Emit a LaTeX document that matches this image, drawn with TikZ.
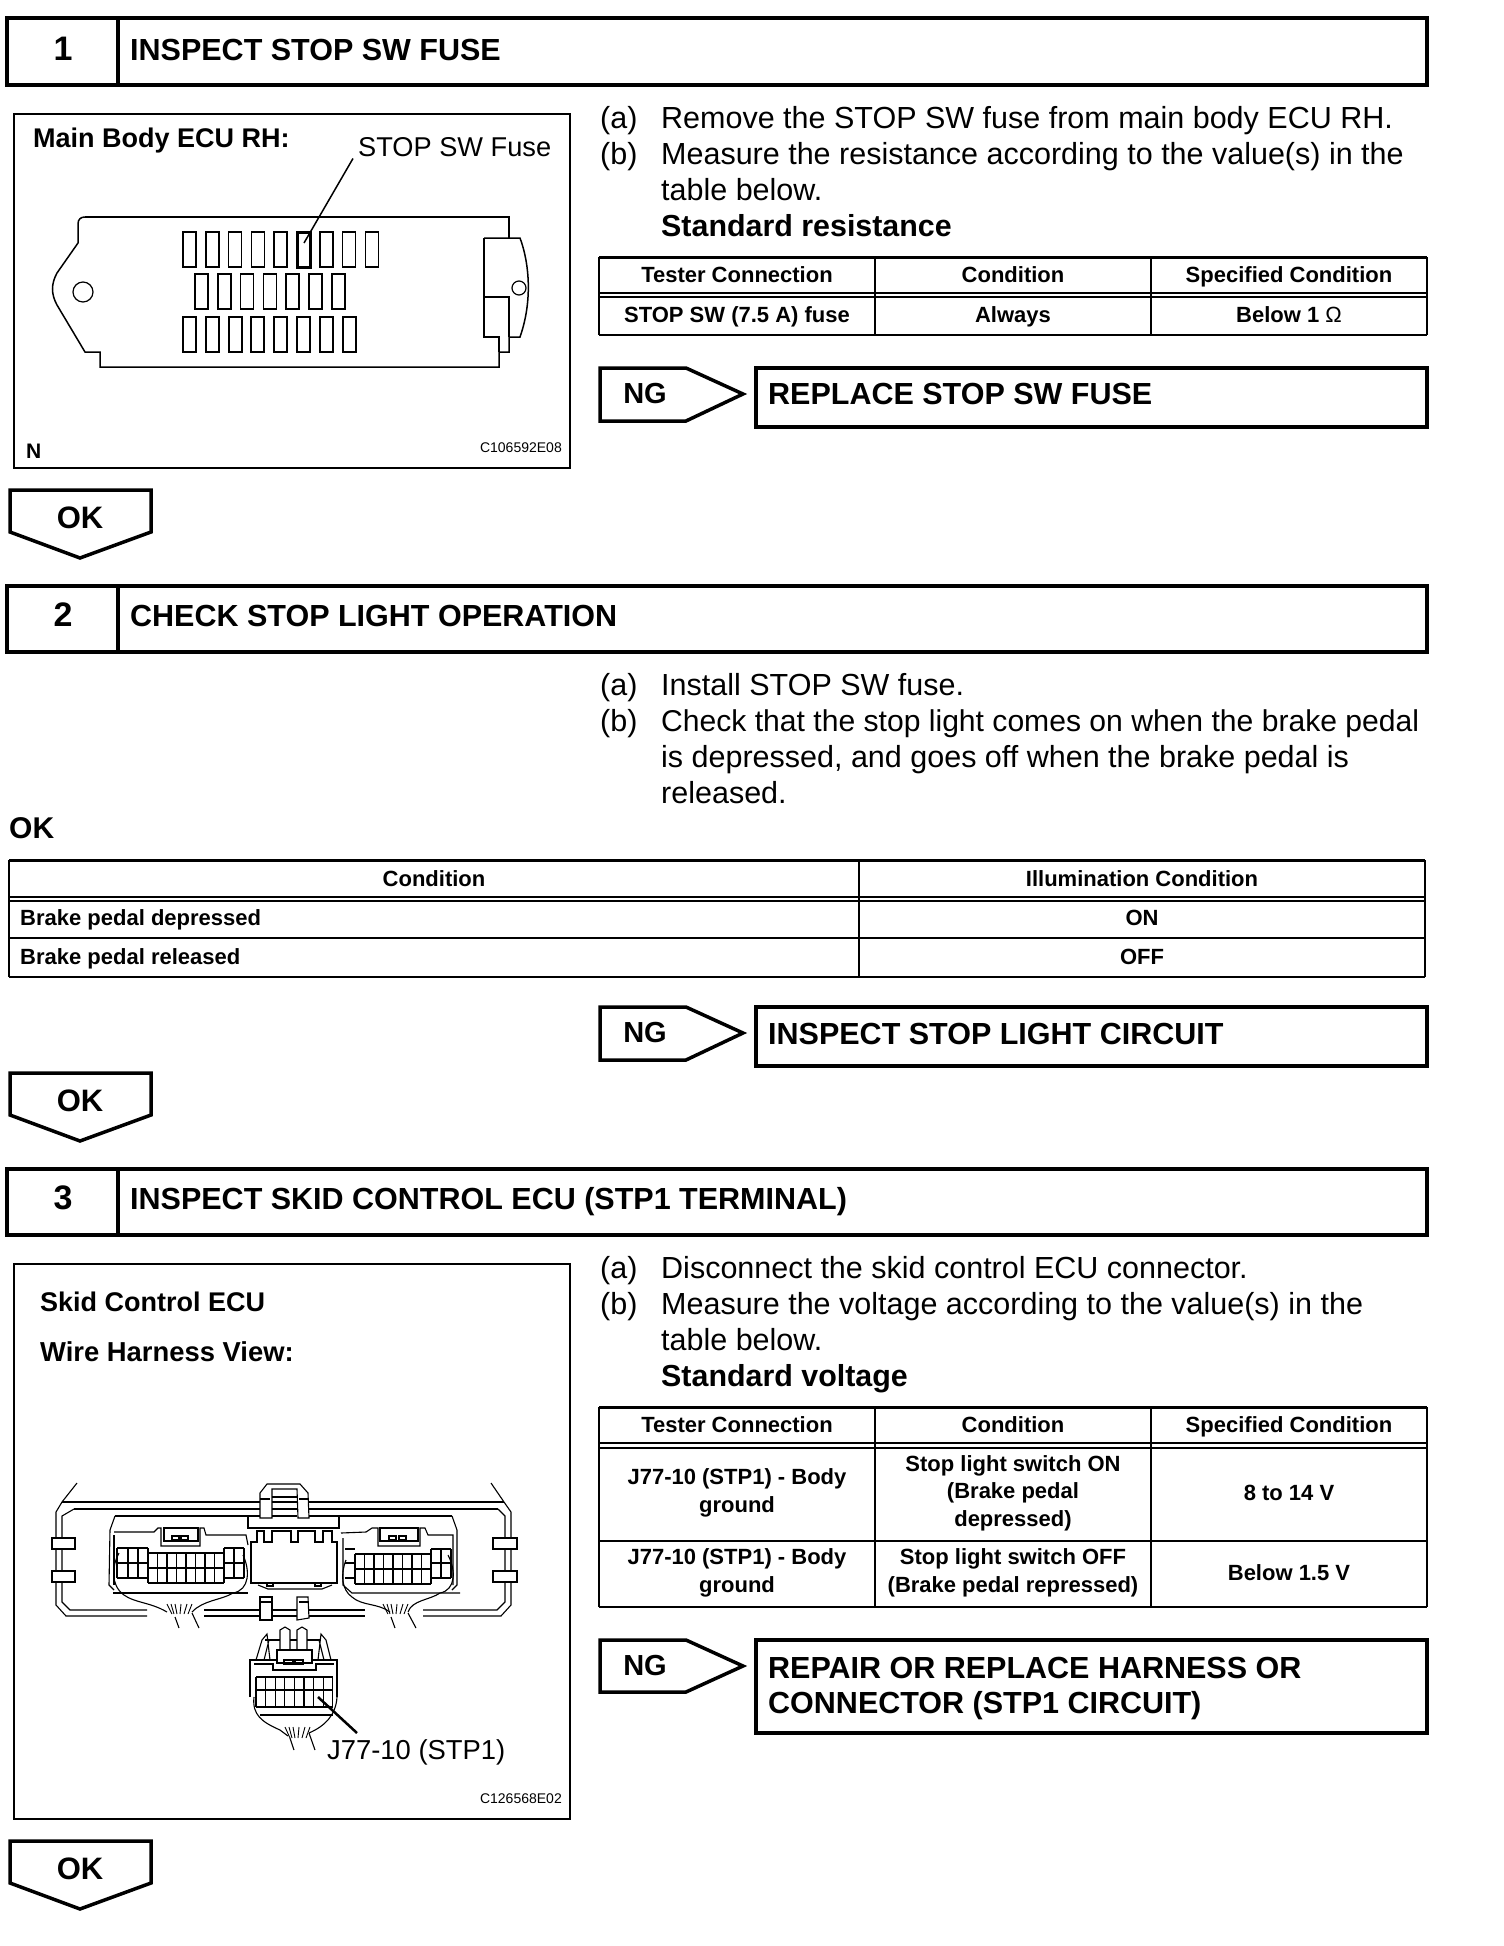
\documentclass[tikz,border=0pt]{standalone}
\usepackage{fontspec}
\setmainfont{Liberation Sans}
\usepackage{tikz}
\usetikzlibrary{positioning}
\newcommand{\px}[1]{\fontsize{#1}{#1}\selectfont}

\begin{document}
\begin{tikzpicture}[x=1pt, y=-1pt, line join=miter,
                txt/.style={inner sep=0pt, anchor=base west},
                body/.style={txt, font=\px{30.5}},
                bodyb/.style={txt, font=\bfseries\px{30.4}},
                title/.style={txt, font=\bfseries\px{30.5}},
                num/.style={inner sep=0pt, font=\bfseries\px{34}},
                cellm/.style={inner sep=0pt, align=center, font=\bfseries\fontsize{22}{27.5}\selectfont},
                cell/.style={cellm, text height=15pt, text depth=0pt},
                rowhead/.style={inner sep=0pt, anchor=base west, font=\bfseries\px{22}},
                badge/.style={inner sep=0pt, font=\bfseries\px{31}},
                code/.style={inner sep=0pt, anchor=base east, font=\px{14}},
                heavy/.style={draw, line width=4.5pt},
                frame/.style={draw, line width=2.5pt},
                tbl/.style={draw, line width=1.3pt},
                dbl/.style={draw, line width=2pt},
                fine/.style={draw, line width=1.1pt}]
\useasboundingbox[fill=white] (0,0) rectangle (1504,1946);

% --- step 1 ---
\draw[heavy] (7,18) rectangle (1427,85);
\draw[heavy] (118,18) -- (118,85);
\node[num] (numa) at (63,49) {1};
\node[title] (heada) at (130,60) {INSPECT STOP SW FUSE};

\draw[frame] (14,114) rectangle (570,468);
\node[txt, font=\bfseries\px{27}] (ecua) at (33,147) {Main Body ECU RH:};
\node[txt, font=\px{27.2}] (fuselbl) at (358,156) {STOP SW Fuse};
\node[txt, font=\bfseries\px{21}] (nmark) at (26,458) {N};
\node[code] (codea) at (562,452) {C106592E08};

\draw[line width=1.5pt] (85,217) -- (509,217) -- (509,238);
\draw[line width=1.5pt] (484,238) -- (520,238) .. controls (529,262) and (533,300) .. (520,337)
      -- (509,337) -- (509,352) -- (499,352) -- (499,367) -- (100,367) -- (100,352) -- (85,352)
      -- (57,305) .. controls (51,294) and (51,284) .. (57,273) -- (78,243) -- (78,224)
      .. controls (78,219) and (81,217) .. (85,217);
\draw[line width=1.5pt] (484,238) -- (484,337) -- (499,337) -- (499,352);
\draw[line width=1.5pt] (484,297) -- (509,297) -- (509,337);
\draw[line width=1.2pt] (83,292) circle (10);
\draw[line width=1.2pt] (519,288) circle (7);
\foreach \i in {0,...,8}
  \draw[line width=1.5pt] (183+22.8*\i,232) rectangle +(13,35);
\draw[line width=3pt] (297,232) rectangle +(13,35);
\foreach \i in {0,...,6}
  \draw[line width=1.5pt] (195+22.8*\i,274) rectangle +(13,35);
\foreach \i in {0,...,7}
  \draw[line width=2pt] (183+22.8*\i,317) rectangle +(13,35);
\coordinate (fusetip) at (304,243);
\draw[line width=1.5pt] (fuselbl.south west)++(-5,2) -- (fusetip);

\node[body] (sa1) at (600,128) {(a)};
\node[body] (ta1) at (661,128) {Remove the STOP SW fuse from main body ECU RH.};
\node[body] (sa2) at (600,164) {(b)};
\node[body] (ta2) at (661,164) {Measure the resistance according to the value(s) in the};
\node[body] (ta3) at (661,200) {table below.};
\node[bodyb] (ta4) at (661,236) {Standard resistance};

\draw[line width=3pt] (599,257) -- (1427,257);
\draw[dbl] (599,293) -- (1427,293) (599,297) -- (1427,297);
\draw[line width=2pt] (599,335) -- (1427,335);
\foreach \x in {599,875,1151,1427}
  \draw[tbl] (\x,257) -- (\x,335);
\node[cell] (ca1) at (737,275) {Tester Connection};
\node[cell] (ca2) at (1013,275) {Condition};
\node[cell] (ca3) at (1289,275) {Specified Condition};
\node[cell] (ca4) at (737,315) {STOP SW (7.5 A) fuse};
\node[cell] (ca5) at (1013,315) {Always};
\node[cell] (ca6) at (1289,315) {Below 1 {\mdseries Ω}};

\draw[line width=3.5pt] (600,368) -- (686,368) -- (743,394) -- (686,421) -- (600,421) -- cycle;
\node[badge, font=\bfseries\px{29}] (nga) at (645,394) {NG};
\draw[heavy] (756,368) rectangle (1427,427);
\node[title] (fixa) at (768,404) {REPLACE STOP SW FUSE};

\draw[line width=3.5pt] (10,490) -- (151,490) -- (151,532) -- (80,558) -- (10,532) -- cycle;
\node[badge] (oka) at (80,518) {OK};

% --- step 2 ---
\draw[heavy] (7,586) rectangle (1427,652);
\draw[heavy] (118,586) -- (118,652);
\node[num] (numb) at (63,615) {2};
\node[title] (headb) at (130,626) {CHECK STOP LIGHT OPERATION};

\node[body] (sb1) at (600,695) {(a)};
\node[body] (tb1) at (661,695) {Install STOP SW fuse.};
\node[body] (sb2) at (600,731) {(b)};
\node[body, font=\px{30.1}] (tb2) at (661,731) {Check that the stop light comes on when the brake pedal};
\node[body] (tb3) at (661,767) {is depressed, and goes off when the brake pedal is};
\node[body] (tb4) at (661,803) {released.};
\node[txt, font=\bfseries\px{30}] (okline) at (9,838) {OK};

\draw[line width=3pt] (9,860) -- (1425,860);
\draw[dbl] (9,897) -- (1425,897) (9,901) -- (1425,901) (9,938) -- (1425,938);
\draw[line width=2pt] (9,977) -- (1425,977);
\foreach \x in {9,859,1425}
  \draw[tbl] (\x,860) -- (\x,977);
\node[cell] (cb1) at (434,879) {Condition};
\node[cell] (cb2) at (1142,879) {Illumination Condition};
\node[rowhead] (cb3) at (20,925) {Brake pedal depressed};
\node[cell] (cb4) at (1142,918) {ON};
\node[rowhead] (cb5) at (20,964) {Brake pedal released};
\node[cell] (cb6) at (1142,957) {OFF};

\draw[line width=3.5pt] (600,1007) -- (686,1007) -- (743,1033) -- (686,1060) -- (600,1060) -- cycle;
\node[badge, font=\bfseries\px{29}] (ngb) at (645,1033) {NG};
\draw[heavy] (756,1007) rectangle (1427,1066);
\node[title] (fixb) at (768,1044) {INSPECT STOP LIGHT CIRCUIT};

\draw[line width=3.5pt] (10,1073) -- (151,1073) -- (151,1115) -- (80,1141) -- (10,1115) -- cycle;
\node[badge] (okb) at (80,1101) {OK};

% --- step 3 ---
\draw[heavy] (7,1169) rectangle (1427,1235);
\draw[heavy] (118,1169) -- (118,1235);
\node[num] (numc) at (63,1198) {3};
\node[title] (headc) at (130,1209) {INSPECT SKID CONTROL ECU (STP1 TERMINAL)};

\draw[frame] (14,1264) rectangle (570,1819);
\node[txt, font=\bfseries\px{27}] (ecub) at (40,1311) {Skid Control ECU};
\node[txt, font=\bfseries\px{27.4}] (viewb) at (40,1361) {Wire Harness View:};
\node[txt, font=\px{27.4}] (pinlbl) at (327,1759) {J77-10 (STP1)};
\node[code] (codeb) at (562,1803) {C126568E02};

% ecu case
\draw[fine] (77,1483) -- (62,1502) -- (56,1512) -- (56,1605) -- (66,1616) -- (147,1616);
\draw[fine] (491,1483) -- (504,1502) -- (511,1512) -- (511,1605) -- (501,1616) -- (423,1616);
\draw[fine] (62,1502) -- (260,1502) (309,1502) -- (504,1502);
\draw[fine] (74,1509) -- (260,1509) (309,1509) -- (498,1509);
\draw[fine] (74,1509) -- (62,1516) -- (62,1602) -- (70,1610) -- (147,1610);
\draw[fine] (498,1509) -- (505,1516) -- (505,1602) -- (497,1610) -- (423,1610);
\draw[fine] (204,1610) -- (260,1610) (204,1616) -- (260,1616) (272,1610) -- (297,1610)
      (272,1616) -- (297,1616) (309,1610) -- (365,1610) (309,1616) -- (365,1616);
\draw[fine] (115,1516) -- (260,1516) (309,1516) -- (452,1516);
% clips
\foreach \y in {1538,1571} {
  \draw[fine, fill=white] (52,\y) rectangle (75,\y+11);
  \draw[fine, fill=white] (493,\y) rectangle (517,\y+11);
}
\draw[fine, fill=white] (260,1518) -- (260,1493) -- (267,1484) -- (300,1484) -- (308,1493)
      -- (309,1518) -- (298,1518) -- (297,1489) -- (272,1489) -- (272,1518) -- cycle;
\draw[fine] (260,1499) -- (270,1499) (299,1499) -- (308,1499) (272,1497) -- (297,1497)
      (272,1502) -- (297,1502) (272,1509) -- (297,1509) (272,1516) -- (297,1516);
\draw[fine, fill=white] (260,1597) -- (272,1597) -- (272,1620) -- (260,1620) -- cycle;
\draw[fine, fill=white] (297,1597) -- (308,1597) -- (309,1618) -- (297,1620) -- cycle;
\draw[fine] (260,1602) -- (272,1602) (299,1602) -- (308,1602);
% centre block
\draw[fine] (248,1517) -- (248,1528) -- (339,1528) -- (339,1517);
\draw[fine] (258,1585) -- (268,1589) -- (322,1589) -- (332,1585);
\draw[line width=2.6pt] (251,1542) -- (257,1542) -- (257,1531) -- (264,1531) -- (264,1542)
      -- (272,1542) -- (272,1531) -- (291,1531) -- (291,1542) -- (298,1542) -- (298,1531)
      -- (315,1531) -- (315,1542) -- (323,1542) -- (323,1531) -- (332,1531) -- (332,1542)
      -- (337,1542) -- (337,1583) -- (251,1583) -- cycle;
\draw[line width=2pt] (267,1583) -- (267,1586) -- (273,1586) -- (273,1583)
      (315,1583) -- (315,1586) -- (321,1586) -- (321,1583);
% left plug
\draw[fine] (115,1516) -- (110,1530) -- (109,1585) -- (114,1590);
\draw[fine] (114,1535) -- (114,1585);
\draw[fine] (114,1532) -- (154,1532) -- (158,1528) -- (161,1528) -- (161,1546) -- (200,1546)
      -- (200,1528) -- (204,1528) -- (206,1535) -- (246,1535) -- (248,1545);
\draw[fine] (164,1528) -- (198,1528) -- (198,1541) -- (164,1541) -- cycle;
\draw[fine] (172,1536) rectangle (179,1540) (181,1536) rectangle (188,1540);
\foreach \x in {117,128,138,148} \draw[fine] (\x,1548) -- (\x,1578);
\draw[fine] (117,1548) -- (148,1548) (117,1563) -- (148,1563) (117,1578) -- (148,1578);
\foreach \i in {0,...,8} \draw[fine] (148+9.5*\i,1553) -- (148+9.5*\i,1583);
\draw[fine] (148,1553) -- (224,1553) (148,1568) -- (224,1568) (148,1583) -- (224,1583);
\foreach \x in {224,234,244} \draw[fine] (\x,1548) -- (\x,1578);
\draw[fine] (224,1548) -- (244,1548) (224,1563) -- (244,1563) (224,1578) -- (244,1578);
\draw[fine] (113,1593) -- (248,1593);
\draw[fine] (119,1553) .. controls (112,1565) and (110,1585) .. (124,1595)
      .. controls (135,1603) and (150,1602) .. (167,1612);
\draw[fine] (243,1555) .. controls (250,1570) and (250,1590) .. (233,1593)
      .. controls (222,1600) and (203,1600) .. (192,1612);
\draw[fine] (175,1617) -- (179,1628) (192,1613) -- (199,1628);
\foreach \a/\b in {172/167,174/171,177/175,180/181,184/187,188/192}
  \draw[line width=.9pt] (\a,1614) -- (\b,1604);
% right plug
\draw[fine] (452,1516) -- (457,1530) -- (457,1585) -- (452,1590);
\draw[fine] (343,1538) -- (343,1585) -- (352,1593) -- (460,1593);
\draw[fine] (341,1533) -- (366,1532) -- (372,1528) -- (378,1528) -- (378,1546) -- (420,1546)
      -- (420,1528) -- (425,1528) -- (428,1535) -- (453,1535) -- (453,1585);
\draw[fine] (380,1528) -- (418,1528) -- (418,1541) -- (380,1541) -- cycle;
\draw[fine] (389,1536) rectangle (396,1540) (399,1536) rectangle (406,1540);
\foreach \i in {0,...,8} \draw[fine] (355+9.5*\i,1554) -- (355+9.5*\i,1584);
\draw[fine] (355,1554) -- (431,1554) (355,1569) -- (431,1569) (355,1584) -- (431,1584);
\foreach \x in {431,441,451} \draw[fine] (\x,1549) -- (\x,1578);
\draw[fine] (431,1549) -- (451,1549) (431,1563) -- (451,1563) (431,1578) -- (451,1578);
\draw[fine] (345,1549) -- (355,1549) (345,1563) -- (355,1563) (345,1578) -- (355,1578);
\draw[fine] (346,1560) .. controls (340,1575) and (342,1590) .. (352,1597)
      .. controls (362,1606) and (378,1603) .. (390,1612);
\draw[fine] (448,1555) .. controls (456,1570) and (456,1590) .. (440,1593)
      .. controls (430,1600) and (412,1600) .. (408,1612);
\draw[fine] (391,1617) -- (395,1628) (408,1613) -- (416,1628);
\foreach \a/\b in {388/383,390/387,393/391,396/397,400/403,404/408}
  \draw[line width=.9pt] (\a,1614) -- (\b,1604);
% bottom plug
\draw[fine] (250,1697) -- (250,1660) -- (277,1660) (312,1660) -- (337,1660) -- (337,1697);
\draw[fine] (254,1664) -- (273,1664) -- (273,1670) -- (316,1670) -- (316,1664) -- (334,1664);
\draw[fine] (277,1650) -- (312,1650) -- (312,1663) -- (277,1663) -- cycle;
\draw[fine] (284,1660) rectangle (293,1664) (295,1660) rectangle (303,1664);
\draw[fine] (280,1650) -- (280,1630) -- (285,1627) -- (290,1630) -- (290,1650)
      (297,1650) -- (297,1630) -- (302,1627) -- (307,1630) -- (307,1650);
\draw[line width=2.2pt] (265,1640) -- (280,1640) (290,1640) -- (297,1640) (307,1640) -- (321,1640);
\draw[fine] (256,1660) -- (262,1640) -- (267,1634) -- (270,1660)
      (331,1660) -- (326,1640) -- (321,1634) -- (318,1660) (264,1660) -- (269,1640) (324,1660) -- (319,1640);
\foreach \i in {0,...,8} \draw[line width=1.3pt] (256+9.6*\i,1677) -- (256+9.6*\i,1707);
\draw[line width=1.3pt] (256,1677) -- (333,1677);
\draw[line width=2.2pt] (256,1690) -- (333,1690);
\draw[line width=2pt] (256,1707) -- (333,1707);
\draw[line width=2.8pt] (260,1715) -- (333,1715);
\draw[fine] (254,1697) .. controls (252,1715) and (262,1722) .. (280,1730) -- (288,1736);
\draw[fine] (337,1697) .. controls (336,1715) and (325,1726) .. (309,1733);
\draw[fine] (290,1738) -- (294,1750) (309,1733) -- (315,1750);
\foreach \a/\b in {290/285,292/289,295/293,298/299,302/305,306/310}
  \draw[line width=.9pt] (\a,1738) -- (\b,1727);
\coordinate (pinpoint) at (318,1697);
\coordinate (pinend) at (357,1733);
\draw[line width=2.5pt] (pinpoint) -- (pinend);

\node[body] (sc1) at (600,1278) {(a)};
\node[body] (tc1) at (661,1278) {Disconnect the skid control ECU connector.};
\node[body] (sc2) at (600,1314) {(b)};
\node[body] (tc2) at (661,1314) {Measure the voltage according to the value(s) in the};
\node[body] (tc3) at (661,1350) {table below.};
\node[bodyb] (tc4) at (661,1386) {Standard voltage};

\draw[line width=3pt] (599,1407) -- (1427,1407);
\draw[dbl] (599,1443) -- (1427,1443) (599,1448) -- (1427,1448);
\draw[tbl] (599,1541) -- (1427,1541);
\draw[line width=2.5pt] (599,1607) -- (1427,1607);
\foreach \x in {599,875,1151,1427}
  \draw[tbl] (\x,1407) -- (\x,1607);
\node[cell] (cc1) at (737,1425) {Tester Connection};
\node[cell] (cc2) at (1013,1425) {Condition};
\node[cell] (cc3) at (1289,1425) {Specified Condition};
\node[cellm] (cc4) at (737,1493) {J77-10 (STP1) - Body\\ground};
\node[cellm] (cc5) at (1013,1493) {Stop light switch ON\\(Brake pedal\\depressed)};
\node[cell] (cc6) at (1289,1493) {8 to 14 V};
\node[cellm] (cc7) at (737,1573) {J77-10 (STP1) - Body\\ground};
\node[cellm] (cc8) at (1013,1573) {Stop light switch OFF\\(Brake pedal repressed)};
\node[cell] (cc9) at (1289,1573) {Below 1.5 V};

\draw[line width=3.5pt] (600,1640) -- (686,1640) -- (743,1666) -- (686,1692) -- (600,1692) -- cycle;
\node[badge, font=\bfseries\px{29}] (ngc) at (645,1665) {NG};
\draw[heavy] (756,1640) rectangle (1427,1733);
\node[title] (fixc) at (768,1678) {REPAIR OR REPLACE HARNESS OR};
\node[title] (fixd) at (768,1713) {CONNECTOR (STP1 CIRCUIT)};

\draw[line width=3.5pt] (10,1841) -- (151,1841) -- (151,1883) -- (80,1909) -- (10,1883) -- cycle;
\node[badge] (okc) at (80,1869) {OK};
\end{tikzpicture}
\end{document}
